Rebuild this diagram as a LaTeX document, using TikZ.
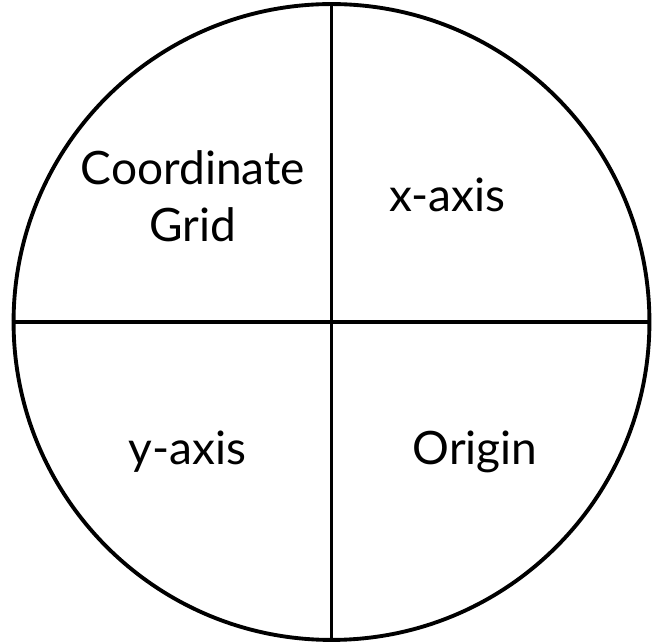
\documentclass[tikz,border=0pt]{standalone}
\usepackage{fontspec}
\setmainfont{Lato}

\begin{document}
\begin{tikzpicture}[
    x=0.02cm, y=-0.02cm,
    every node/.style={font=\fontsize{26.2}{32.4}\selectfont},
    disc/.style={draw, circle, line width=2.2pt, minimum size=12.72cm, inner sep=0pt},
    divider/.style={draw, line width=2.2pt},
    quadtext/.style={align=center, inner sep=0pt}
  ]
  \useasboundingbox (0,0) rectangle (653,644);
  \node[disc] (wheel) at (331.5,322) {};
  \draw[divider] (wheel.north) -- (wheel.south);
  \draw[divider] (wheel.west) -- (wheel.east);
  \node[quadtext] (grid) at (193,196) {Coordinate\\Grid};
  \node[quadtext, anchor=base] (xaxis) at (447.5,211.7) {x-axis};
  \node[quadtext, anchor=base] (yaxis) at (187.5,465) {y-axis};
  \node[quadtext, anchor=base] (origin) at (475,465) {Origin};
\end{tikzpicture}
\end{document}
